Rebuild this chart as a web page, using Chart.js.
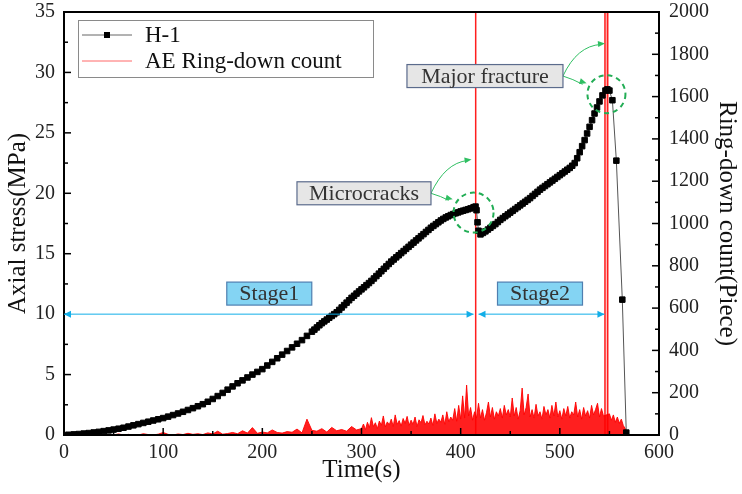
<!DOCTYPE html>
<html>
<head>
<meta charset="utf-8">
<script src="https://cdn.jsdelivr.net/npm/chart.js@4.4.0/dist/chart.umd.min.js"></script>
<style>
  body { margin: 0; background: #fff; }
  #chart { display: block; }
</style>
</head>
<body>
<canvas id="chart" width="742" height="494"></canvas>
<script>
// H-1 axial stress (MPa) against time (s)
const stressTime = [
  0, 5, 10, 15, 20, 25, 30, 35, 40, 45,
  50, 55, 60, 65, 70, 75, 80, 85, 90, 95,
  100, 105, 110, 115, 120, 125, 130, 135, 140, 145,
  150, 155, 160, 165, 170, 175, 180, 185, 190, 195,
  200, 205, 210, 215, 220, 225, 230, 235, 240, 245,
  250, 252.5, 255, 257.5, 260, 262.5, 265, 267.5, 270, 272.5,
  275, 277.5, 280, 282.5, 285, 287.5, 290, 292.5, 295, 297.5,
  300, 302.5, 305, 307.5, 310, 312.5, 315, 317.5, 320, 322.5,
  325, 327.5, 330, 332.5, 335, 337.5, 340, 342.5, 345, 347.5,
  350, 352.5, 355, 357.5, 360, 362.5, 365, 367.5, 370, 372.5,
  375, 377.5, 380, 382.5, 385, 387.5, 390, 392.5, 395, 397.5,
  400, 402.5, 405, 407.5, 410, 413, 415, 416, 417, 418,
  420, 422.5, 425, 427.5, 430, 432.5, 435, 437.5, 440, 442.5,
  445, 447.5, 450, 452.5, 455, 457.5, 460, 462.5, 465, 467.5,
  470, 472.5, 475, 477.5, 480, 482.5, 485, 487.5, 490, 492.5,
  495, 497.5, 500, 502.5, 505, 507.5, 510, 512.5, 515, 517.5,
  520, 522.5, 525, 527.5, 530, 532.5, 535, 537.5, 540, 543,
  546, 548, 550, 553, 557, 563, 567
];
const stressValue = [
  0.00, 0.02, 0.05, 0.08, 0.12, 0.16, 0.21, 0.26, 0.32, 0.38,
  0.45, 0.52, 0.60, 0.70, 0.80, 0.90, 1.00, 1.10, 1.20, 1.30,
  1.40, 1.52, 1.65, 1.78, 1.92, 2.07, 2.22, 2.38, 2.55, 2.75,
  2.98, 3.22, 3.48, 3.75, 4.02, 4.28, 4.52, 4.76, 5.00, 5.22,
  5.45, 5.75, 6.05, 6.35, 6.65, 6.95, 7.25, 7.55, 7.85, 8.20,
  8.55, 8.72, 8.90, 9.08, 9.25, 9.40, 9.55, 9.70, 9.85, 10.00,
  10.15, 10.35, 10.55, 10.75, 10.95, 11.15, 11.35, 11.52, 11.70, 11.88,
  12.05, 12.22, 12.40, 12.57, 12.75, 12.95, 13.15, 13.35, 13.55, 13.75,
  13.95, 14.15, 14.35, 14.52, 14.70, 14.87, 15.05, 15.22, 15.40, 15.57,
  15.75, 15.92, 16.10, 16.27, 16.45, 16.62, 16.80, 16.97, 17.15, 17.30,
  17.45, 17.60, 17.75, 17.88, 18.00, 18.10, 18.20, 18.28, 18.35, 18.42,
  18.50, 18.56, 18.62, 18.68, 18.75, 18.85, 18.90, 18.60, 17.60, 16.90,
  16.60, 16.72, 16.85, 17.00, 17.15, 17.30, 17.45, 17.62, 17.80, 17.95,
  18.10, 18.25, 18.40, 18.55, 18.70, 18.85, 19.00, 19.15, 19.30, 19.45,
  19.60, 19.78, 19.95, 20.12, 20.30, 20.45, 20.60, 20.75, 20.90, 21.05,
  21.20, 21.35, 21.50, 21.65, 21.80, 21.95, 22.10, 22.28, 22.50, 22.90,
  23.40, 23.90, 24.40, 24.95, 25.50, 26.05, 26.60, 27.10, 27.60, 28.10,
  28.50, 28.60, 28.50, 27.70, 22.70, 11.20, 0.20
];

// AE ring-down count (piece) against time (s), background activity
const aeTime = [
  0, 5, 10, 15, 20, 25, 30, 35, 40, 45,
  50, 55, 60, 65, 70, 75, 80, 85, 90, 95,
  100, 105, 110, 115, 120, 125, 130, 135, 140, 145,
  150, 155, 160, 165, 170, 175, 180, 185, 190, 195,
  200, 205, 210, 215, 220, 225, 230, 235, 240, 245,
  250, 255, 260, 265, 270, 275, 280, 285, 290, 295,
  300, 302, 304, 306, 308, 310, 312, 314, 316, 318,
  320, 322, 324, 326, 328, 330, 332, 334, 336, 338,
  340, 342, 344, 346, 348, 350, 352, 354, 356, 358,
  360, 362, 364, 366, 368, 370, 372, 374, 376, 378,
  380, 382, 384, 386, 388, 390, 392, 394, 396, 398,
  400, 402, 404, 406, 408, 410, 412, 414,
  416, 418, 420, 422, 424, 426, 428, 430, 432, 434,
  436, 438, 440, 442, 444, 446, 448, 450, 452, 454,
  456, 458, 460, 462, 464, 466, 468, 470, 472, 474,
  476, 478, 480, 482, 484, 486, 488, 490, 492, 494,
  496, 498, 500, 502, 504, 506, 508, 510, 512, 514,
  516, 518, 520, 522, 524, 526, 528, 530, 532, 534,
  536, 538, 540, 542, 544,
  550, 552, 554, 556, 558, 560, 562, 564, 566,
  567
];
const aeCount = [
  0, 0, 2, 0, 3, 0, 0, 4, 0, 2,
  0, 5, 0, 3, 0, 0, 6, 2, 0, 4,
  12, 3, 0, 5, 2, 8, 3, 6, 2, 10,
  5, 18, 4, 7, 12, 6, 20, 9, 35, 8,
  14, 10, 24, 12, 9, 16, 13, 28, 10, 75,
  22, 18, 30, 14, 36, 20, 26, 18, 40, 24,
  30, 52, 25, 60, 35, 82, 40, 58, 30, 66,
  45, 90, 38, 62, 48, 75, 40, 95, 50, 68,
  42, 78, 55, 88, 45, 70, 50, 85, 40, 72,
  58, 92, 48, 65, 52, 80, 45, 100, 55, 75,
  60, 95, 50, 110, 62, 85, 70, 125, 65, 140,
  75, 185, 80, 236, 90, 130, 70, 110,
  80, 150, 80, 120, 70, 105, 156, 85, 130, 75,
  110, 90, 125, 80, 140, 95, 120, 85, 175, 90,
  130, 75, 115, 222, 95, 130, 194, 85, 120, 80,
  145, 90, 110, 75, 135, 95, 120, 80, 140, 90,
  156, 85, 115, 75, 125, 90, 135, 80, 110, 95,
  156, 85, 120, 75, 130, 90, 115, 80, 140, 95,
  120, 150, 85, 125, 90,
  100, 70, 95, 60, 85, 55, 75, 45, 30,
  0
];

// AE bursts that run off the top of the count axis
const burstTime = [414.8, 415, 415.3, 545.2, 545.5, 548, 548.3];
const burstCount = [0, 2400, 0, 0, 2400, 2400, 0];

// tick labels
const timeTicks = [0, 100, 200, 300, 400, 500, 600];
const stressTicks = [0, 5, 10, 15, 20, 25, 30, 35];
const countTicks = [0, 200, 400, 600, 800, 1000, 1200, 1400, 1600, 1800, 2000];

const serif = 'Liberation Serif';

// frame + inward ticks like the original plot
const frameTicks = {
  id: 'frameTicks',
  afterDatasetsDraw(chart) {
    const { ctx, chartArea: a, scales } = chart;
    ctx.save();
    ctx.strokeStyle = '#000';
    ctx.lineWidth = 1.5;
    const seg = (x0, y0, x1, y1) => {
      ctx.beginPath();
      ctx.moveTo(x0, y0);
      ctx.lineTo(x1, y1);
      ctx.stroke();
    };
    const withMinor = arr => {
      let out = [];
      arr.forEach((v, i) => {
        out.push([v, 7]);
        if (i < arr.length - 1) out.push([(v + arr[i + 1]) / 2, 4]);
      });
      return out;
    };
    withMinor(timeTicks).forEach(([v, len]) => {
      const px = scales.x.getPixelForValue(v);
      seg(px, a.bottom, px, a.bottom - len);
    });
    withMinor(stressTicks).forEach(([v, len]) => {
      const py = scales.y.getPixelForValue(v);
      seg(a.left, py, a.left + len, py);
    });
    withMinor(countTicks).forEach(([v, len]) => {
      const py = scales.y1.getPixelForValue(v);
      seg(a.right, py, a.right - len, py);
    });
    ctx.lineWidth = 2;
    ctx.strokeRect(a.left, a.top, a.right - a.left, a.bottom - a.top);
    ctx.restore();
  }
};

// legend box inside the plot
const insideLegend = {
  id: 'insideLegend',
  afterDraw(chart) {
    const { ctx, chartArea: a } = chart;
    const ds = chart.data.datasets;
    const left = a.left + 14, top = a.top + 8;
    ctx.save();
    ctx.fillStyle = '#fff';
    ctx.fillRect(left, top, 295, 57);
    ctx.strokeStyle = '#8a8a8a';
    ctx.lineWidth = 1;
    ctx.strokeRect(left + 0.5, top + 0.5, 295, 57);

    ctx.font = '23px "' + serif + '"';
    ctx.textBaseline = 'middle';

    // H-1
    ctx.strokeStyle = '#666';
    ctx.beginPath();
    ctx.moveTo(left + 4, top + 15);
    ctx.lineTo(left + 54, top + 15);
    ctx.stroke();
    ctx.fillStyle = '#000';
    ctx.fillRect(left + 26, top + 12, 6, 6);
    ctx.fillStyle = '#111';
    ctx.fillText(ds[0].label, left + 67, top + 16);

    // AE
    ctx.strokeStyle = 'rgba(255,40,40,0.7)';
    ctx.beginPath();
    ctx.moveTo(left + 4, top + 41);
    ctx.lineTo(left + 54, top + 41);
    ctx.stroke();
    ctx.fillText(ds[1].label, left + 67, top + 42);
    ctx.restore();
  }
};

// callouts: stage arrows, text boxes, green circles and arrows
const callouts = {
  id: 'callouts',
  afterDraw(chart) {
    const { ctx, scales } = chart;
    const X = v => scales.x.getPixelForValue(v);
    const Y = v => scales.y.getPixelForValue(v);

    const head = (x, y, ang, len, w, color) => {
      ctx.save();
      ctx.translate(x, y);
      ctx.rotate(ang);
      ctx.fillStyle = color;
      ctx.beginPath();
      ctx.moveTo(0, 0);
      ctx.lineTo(-len, -w);
      ctx.lineTo(-len, w);
      ctx.closePath();
      ctx.fill();
      ctx.restore();
    };

    const box = (cx, cy, w, h, text, fill, stroke, size) => {
      ctx.fillStyle = fill;
      ctx.fillRect(cx - w / 2, cy - h / 2, w, h);
      ctx.strokeStyle = stroke;
      ctx.lineWidth = 1.2;
      ctx.strokeRect(cx - w / 2, cy - h / 2, w, h);
      ctx.fillStyle = '#333';
      ctx.font = size + 'px "' + serif + '"';
      ctx.textAlign = 'center';
      ctx.textBaseline = 'middle';
      ctx.fillText(text, cx, cy + 1);
    };

    const twoWay = (t0, t1, s, color) => {
      const x0 = X(t0), x1 = X(t1), y = Y(s);
      ctx.strokeStyle = color;
      ctx.lineWidth = 1;
      ctx.beginPath();
      ctx.moveTo(x0, y);
      ctx.lineTo(x1, y);
      ctx.stroke();
      head(x1, y, 0, 7, 3.5, color);
      head(x0, y, Math.PI, 7, 3.5, color);
    };

    const curved = (x0, y0, cx, cy, x1, y1, color) => {
      ctx.strokeStyle = color;
      ctx.lineWidth = 1;
      ctx.beginPath();
      ctx.moveTo(x0, y0);
      ctx.quadraticCurveTo(cx, cy, x1 - 4, y1 + 1);
      ctx.stroke();
      head(x1, y1, Math.atan2(y1 - cy, x1 - cx), 7, 3, color);
    };

    const ring = (t, s, r, color) => {
      ctx.strokeStyle = color;
      ctx.lineWidth = 2;
      ctx.setLineDash([5, 4]);
      ctx.beginPath();
      ctx.arc(X(t), Y(s), r, 0, Math.PI * 2);
      ctx.stroke();
      ctx.setLineDash([]);
    };

    ctx.save();
    const cyan = '#12aee8';
    twoWay(0, 413, 10, cyan);
    twoWay(418, 545, 10, cyan);
    box(X(207), Y(11.7), 85, 23, 'Stage1', '#84d4f3', '#4f7fb0', 22);
    box(X(480), Y(11.7), 85, 23, 'Stage2', '#84d4f3', '#4f7fb0', 22);

    const green = '#2fbf62';
    ring(413, 18.4, 20, '#22ad55');
    ring(547, 28.2, 19, '#22ad55');

    // Microcracks
    const mx = X(302.5) + 67, my = Y(20);
    curved(mx, my, mx + 14, Y(22.5), X(411), Y(22.8), green);
    curved(mx, my, mx + 10, my + 3, X(392), Y(19.5), green);
    box(X(302.5), Y(20), 134, 23, 'Microcracks', '#e6e6e6', '#5b6b8c', 22);

    // Major fracture
    const fx = X(424.5) + 78, fy = Y(29.7);
    curved(fx, fy, fx + 14, Y(32.2), X(545.5), Y(32.4), green);
    curved(fx, fy, fx + 10, fy + 3, X(527), Y(29.1), green);
    box(X(424.5), Y(29.7), 156, 23, 'Major fracture', '#e6e6e6', '#5b6b8c', 22);
    ctx.restore();
  }
};

const stressPoints = stressTime.map((t, i) => ({ x: t, y: stressValue[i] }));
const aePoints = aeTime.map((t, i) => ({ x: t, y: aeCount[i] }));
const burstPoints = burstTime.map((t, i) => ({ x: t, y: burstCount[i] }));

// no label padding: the plot area is fixed by layout padding and axis widths
const noPad = s => { s.paddingTop = 0; s.paddingBottom = 0; s.paddingLeft = 0; s.paddingRight = 0; };
const tickFont = { family: serif, size: 20 };
const titleFont = { family: serif, size: 25 };

new Chart(document.getElementById('chart'), {
  type: 'line',
  data: {
    datasets: [{
      label: 'H-1',
      data: stressPoints,
      yAxisID: 'y',
      borderColor: '#555',
      borderWidth: 1,
      pointStyle: 'rect',
      pointRadius: 3.9,
      pointBackgroundColor: '#000',
      pointBorderColor: '#000',
      pointBorderWidth: 1,
      tension: 0,
      order: 0
    }, {
      label: 'AE Ring-down count',
      data: aePoints,
      yAxisID: 'y1',
      borderColor: 'rgba(255,0,0,0.9)',
      backgroundColor: 'rgba(255,0,0,0.88)',
      borderWidth: 1,
      pointRadius: 0,
      fill: 'origin',
      tension: 0,
      order: 1
    }, {
      label: 'AE burst',
      data: burstPoints,
      yAxisID: 'y1',
      borderColor: 'rgb(255,30,30)',
      backgroundColor: 'rgba(255,120,120,0.35)',
      borderWidth: 1.5,
      pointRadius: 0,
      fill: 'origin',
      tension: 0,
      order: 2
    }]
  },
  options: {
    responsive: false,
    animation: false,
    devicePixelRatio: 1,
    layout: { padding: { top: 12, left: 0, right: 0, bottom: 0 } },
    plugins: {
      legend: { display: false },
      tooltip: { enabled: false }
    },
    scales: {
      x: {
        type: 'linear',
        min: 0,
        max: 600,
        afterBuildTicks: s => { s.ticks = timeTicks.map(v => ({ value: v })); },
        afterFit: s => { s.height = 59; noPad(s); },
        grid: { display: false, drawTicks: false },
        border: { display: false },
        ticks: { padding: 6, color: '#222', font: tickFont, callback: v => String(v) },
        title: {
          display: true, text: 'Time(s)', color: '#111',
          font: titleFont, padding: { top: 0, bottom: 9 }
        }
      },
      y: {
        position: 'left',
        min: 0,
        max: 35,
        afterBuildTicks: s => { s.ticks = stressTicks.map(v => ({ value: v })); },
        afterFit: s => { s.width = 64; noPad(s); },
        grid: { display: false, drawTicks: false },
        border: { display: false },
        ticks: { padding: 9, color: '#222', font: tickFont, callback: v => String(v) },
        title: {
          display: true, text: 'Axial stress(MPa)', color: '#111',
          font: titleFont, padding: { top: 3, bottom: 0 }
        }
      },
      y1: {
        position: 'right',
        min: 0,
        max: 2000,
        afterBuildTicks: s => { s.ticks = countTicks.map(v => ({ value: v })); },
        afterFit: s => { s.width = 83; noPad(s); },
        grid: { display: false, drawTicks: false },
        border: { display: false },
        ticks: { padding: 10, color: '#222', font: tickFont, callback: v => String(v) },
        title: {
          display: true, text: 'Ring-down count(Piece)', color: '#111',
          font: titleFont, padding: { top: 0, bottom: 0 }
        }
      }
    }
  },
  plugins: [frameTicks, callouts, insideLegend]
});
</script>
</body>
</html>
